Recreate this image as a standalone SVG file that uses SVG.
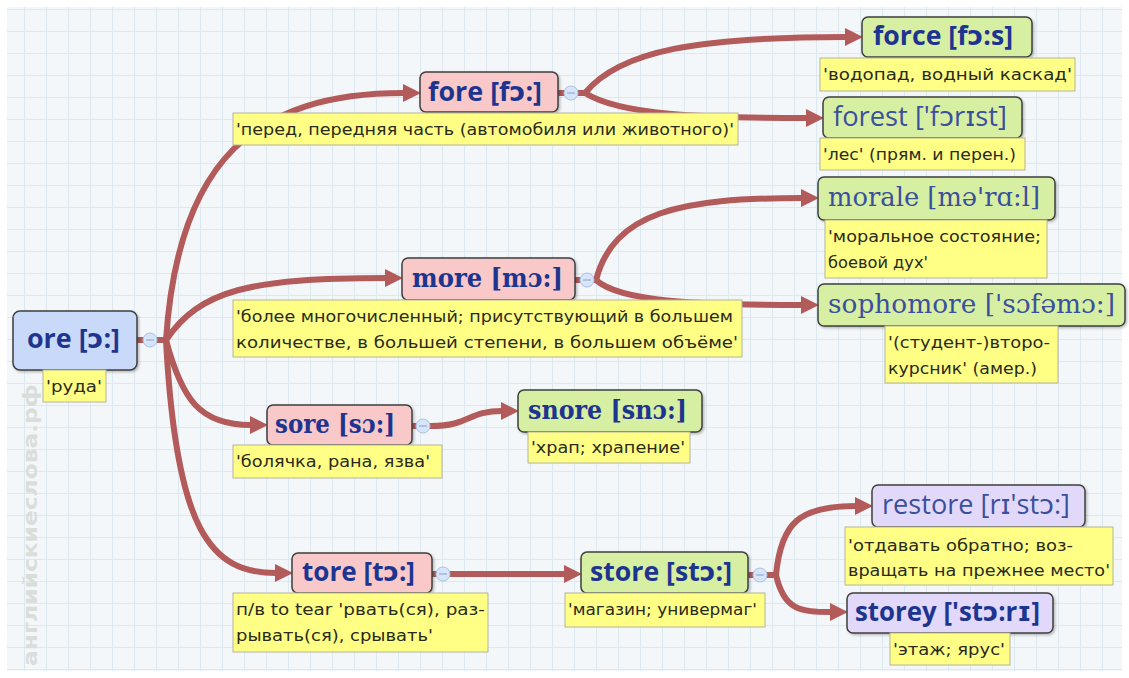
<svg xmlns="http://www.w3.org/2000/svg" width="1129" height="678" viewBox="0 0 1129 678">
<defs>
<pattern id="grid" x="2" y="9" width="22" height="22" patternUnits="userSpaceOnUse">
<path d="M0,0.5 H22 M0.5,0 V22" fill="none" stroke="#dde9f1" stroke-width="1"/>
</pattern>
<marker id="arr" viewBox="0 0 18 18" refX="1" refY="9" markerWidth="18" markerHeight="18" markerUnits="userSpaceOnUse" orient="auto">
<path d="M0,0 L18,9 L0,18 z" fill="#b35a5a"/>
</marker>
<filter id="sh" x="-10%" y="-20%" width="130%" height="160%">
<feDropShadow dx="1.5" dy="1.5" stdDeviation="1" flood-color="#000" flood-opacity="0.25"/>
</filter>
</defs>
<style>
.box{stroke:#3f3f3f;stroke-width:1.5;filter:url(#sh)}
.blue{fill:#c9d9f9}
.pink{fill:#f9c8c8}
.green{fill:#d7efa3}
.purple{fill:#e2d9fa}
.lab{fill:#ffff86;stroke:#b4b49a;stroke-width:1}
.lt{font-family:"DejaVu Sans","Liberation Sans",sans-serif;font-size:15px;fill:#2a2a1a}
.tb{font-family:"Open Sans","DejaVu Sans",sans-serif;font-weight:bold;font-size:27px;fill:#1e3590}
.ts{font-family:"DejaVu Serif","Liberation Serif",serif;font-weight:bold;font-size:26px;fill:#1e3590}
.tr{font-family:"Open Sans","DejaVu Sans",sans-serif;font-size:27px;fill:#3b509c}
.trs{font-family:"DejaVu Serif","Liberation Serif",serif;font-size:26px;fill:#3b509c}
.con{fill:none;stroke:#b35a5a;stroke-width:6}
.arr{marker-end:url(#arr)}
.col{fill:#d6e5f9;stroke:#a9c1e2;stroke-width:1}
.mn{stroke:#8aa0c0;stroke-width:1}
</style>
<rect x="0" y="0" width="1129" height="678" fill="#ffffff"/>
<rect x="7" y="7" width="1115" height="664" fill="#f4f7f9"/>
<rect x="7" y="7" width="1115" height="664" fill="url(#grid)"/>
<text transform="translate(37,666) rotate(-90)" font-family="'DejaVu Sans',sans-serif" font-weight="bold" font-size="19" fill="#d9dedb" textLength="282" lengthAdjust="spacingAndGlyphs">английскиеслова.рф</text>

<g id="connectors">
<path class="con" d="M137,340 H166"/>
<path class="con arr" d="M166,340 C178,160 255,93 404,93"/>
<path class="con arr" d="M166,340 C200,290 250,278 386,278"/>
<path class="con arr" d="M166,340 C182,400 200,425 251,425"/>
<path class="con arr" d="M166,340 C176,530 210,573 276,573"/>
<path class="con" d="M558,93 H586"/>
<path class="con arr" d="M585,93 C620,50 700,37 846,37"/>
<path class="con arr" d="M585,93 C620,115 700,118 807,118"/>
<path class="con" d="M575,280 H597"/>
<path class="con arr" d="M596,280 C614,212 680,198 802,198"/>
<path class="con arr" d="M596,280 C620,302 700,305 802,305"/>
<path class="con" d="M412,426 H432"/>
<path class="con arr" d="M431,426 C470,426 468,411 502,411"/>
<path class="con" d="M432,574 H452"/>
<path class="con arr" d="M450,574 L565,574"/>
<path class="con" d="M748,575 H777"/>
<path class="con arr" d="M776,575 C781,522 800,506 856,506"/>
<path class="con arr" d="M776,575 C784,610 800,612 831,612"/>
</g>

<g id="collapse">
<circle class="col" cx="150" cy="340" r="7"/><path class="mn" d="M146,340 H154"/>
<circle class="col" cx="571" cy="93" r="7"/><path class="mn" d="M567,93 H575"/>
<circle class="col" cx="587" cy="280" r="7"/><path class="mn" d="M583,280 H591"/>
<circle class="col" cx="423" cy="426" r="7"/><path class="mn" d="M419,426 H427"/>
<circle class="col" cx="443" cy="574" r="7"/><path class="mn" d="M439,574 H447"/>
<circle class="col" cx="760" cy="575" r="7"/><path class="mn" d="M756,575 H764"/>
</g>

<g id="ore">
<rect class="box blue" x="13" y="311" width="124" height="59" rx="7"/>
<text class="tb" x="27" y="348" textLength="93" lengthAdjust="spacingAndGlyphs">ore [ɔ:]</text>
<rect class="lab" x="43" y="370" width="63" height="32"/>
<text class="lt" x="46" y="392" textLength="56" lengthAdjust="spacingAndGlyphs">'руда'</text>
</g>

<g id="fore">
<rect class="box pink" x="420" y="72" width="138" height="40" rx="6"/>
<text class="tb" x="428" y="101" textLength="114" lengthAdjust="spacingAndGlyphs">fore [fɔ:]</text>
<rect class="lab" x="233" y="113" width="505" height="32"/>
<text class="lt" x="236" y="135" textLength="498" lengthAdjust="spacingAndGlyphs">'перед, передняя часть (автомобиля или животного)'</text>
</g>

<g id="force">
<rect class="box green" x="862" y="17" width="170" height="40" rx="6"/>
<text class="tb" x="873" y="45" textLength="140" lengthAdjust="spacingAndGlyphs">force [fɔ:s]</text>
<rect class="lab" x="820" y="58" width="255" height="33"/>
<text class="lt" x="823" y="80" textLength="249" lengthAdjust="spacingAndGlyphs">'водопад, водный каскад'</text>
</g>

<g id="forest">
<rect class="box green" x="823" y="97" width="199" height="41" rx="6"/>
<text class="tr" x="833" y="126" textLength="174" lengthAdjust="spacingAndGlyphs">forest ['fɔrɪst]</text>
<rect class="lab" x="820" y="138" width="205" height="32"/>
<text class="lt" x="823" y="160" textLength="193" lengthAdjust="spacingAndGlyphs">'лес' (прям. и перен.)</text>
</g>

<g id="morale">
<rect class="box green" x="818" y="177" width="237" height="43" rx="6"/>
<text class="trs" x="828" y="206" textLength="212" lengthAdjust="spacingAndGlyphs">morale [mə'rɑ:l]</text>
<rect class="lab" x="825" y="220" width="222" height="58"/>
<text class="lt" x="828" y="242" textLength="213" lengthAdjust="spacingAndGlyphs">'моральное состояние;</text>
<text class="lt" x="828" y="268" textLength="100" lengthAdjust="spacingAndGlyphs">боевой дух'</text>
</g>

<g id="sophomore">
<rect class="box green" x="818" y="284" width="307" height="42" rx="6"/>
<text class="trs" x="828" y="313" textLength="287" lengthAdjust="spacingAndGlyphs">sophomore ['sɔfəmɔ:]</text>
<rect class="lab" x="885" y="326" width="173" height="57"/>
<text class="lt" x="888" y="348" textLength="162" lengthAdjust="spacingAndGlyphs">'(студент-)второ-</text>
<text class="lt" x="888" y="374" textLength="149" lengthAdjust="spacingAndGlyphs">курсник' (амер.)</text>
</g>

<g id="more">
<rect class="box pink" x="402" y="258" width="173" height="42" rx="6"/>
<text class="ts" x="412" y="287" textLength="151" lengthAdjust="spacingAndGlyphs">more [mɔ:]</text>
<rect class="lab" x="233" y="300" width="509" height="57"/>
<text class="lt" x="236" y="322" textLength="497" lengthAdjust="spacingAndGlyphs">'более многочисленный; присутствующий в большем</text>
<text class="lt" x="236" y="348" textLength="502" lengthAdjust="spacingAndGlyphs">количестве, в большей степени, в большем объёме'</text>
</g>

<g id="sore">
<rect class="box pink" x="267" y="405" width="145" height="40" rx="6"/>
<text class="ts" x="275" y="433" textLength="120" lengthAdjust="spacingAndGlyphs">sore [sɔ:]</text>
<rect class="lab" x="233" y="445" width="209" height="33"/>
<text class="lt" x="236" y="467" textLength="194" lengthAdjust="spacingAndGlyphs">'болячка, рана, язва'</text>
</g>

<g id="snore">
<rect class="box green" x="518" y="390" width="184" height="42" rx="6"/>
<text class="ts" x="528" y="419" textLength="159" lengthAdjust="spacingAndGlyphs">snore [snɔ:]</text>
<rect class="lab" x="528" y="432" width="162" height="31"/>
<text class="lt" x="531" y="453" textLength="154" lengthAdjust="spacingAndGlyphs">'храп; храпение'</text>
</g>

<g id="tore">
<rect class="box pink" x="292" y="553" width="140" height="40" rx="6"/>
<text class="tb" x="302" y="581" textLength="113" lengthAdjust="spacingAndGlyphs">tore [tɔ:]</text>
<rect class="lab" x="233" y="593" width="255" height="59"/>
<text class="lt" x="236" y="615" textLength="249" lengthAdjust="spacingAndGlyphs">п/в to tear 'рвать(ся), раз-</text>
<text class="lt" x="236" y="641" textLength="197" lengthAdjust="spacingAndGlyphs">рывать(ся), срывать'</text>
</g>

<g id="store">
<rect class="box green" x="581" y="552" width="167" height="41" rx="6"/>
<text class="tb" x="590" y="581" textLength="142" lengthAdjust="spacingAndGlyphs">store [stɔ:]</text>
<rect class="lab" x="565" y="593" width="200" height="34"/>
<text class="lt" x="568" y="615" textLength="189" lengthAdjust="spacingAndGlyphs">'магазин; универмаг'</text>
</g>

<g id="restore">
<rect class="box purple" x="872" y="485" width="213" height="42" rx="6"/>
<text class="tr" x="882" y="514" textLength="188" lengthAdjust="spacingAndGlyphs">restore [rɪ'stɔ:]</text>
<rect class="lab" x="845" y="527" width="268" height="58"/>
<text class="lt" x="848" y="551" textLength="225" lengthAdjust="spacingAndGlyphs">'отдавать обратно; воз-</text>
<text class="lt" x="848" y="576" textLength="262" lengthAdjust="spacingAndGlyphs">вращать на прежнее место'</text>
</g>

<g id="storey">
<rect class="box purple" x="847" y="593" width="206" height="40" rx="6"/>
<text class="tb" x="855" y="621" textLength="185" lengthAdjust="spacingAndGlyphs">storey ['stɔ:rɪ]</text>
<rect class="lab" x="890" y="633" width="120" height="32"/>
<text class="lt" x="893" y="655" textLength="112" lengthAdjust="spacingAndGlyphs">'этаж; ярус'</text>
</g>
</svg>
